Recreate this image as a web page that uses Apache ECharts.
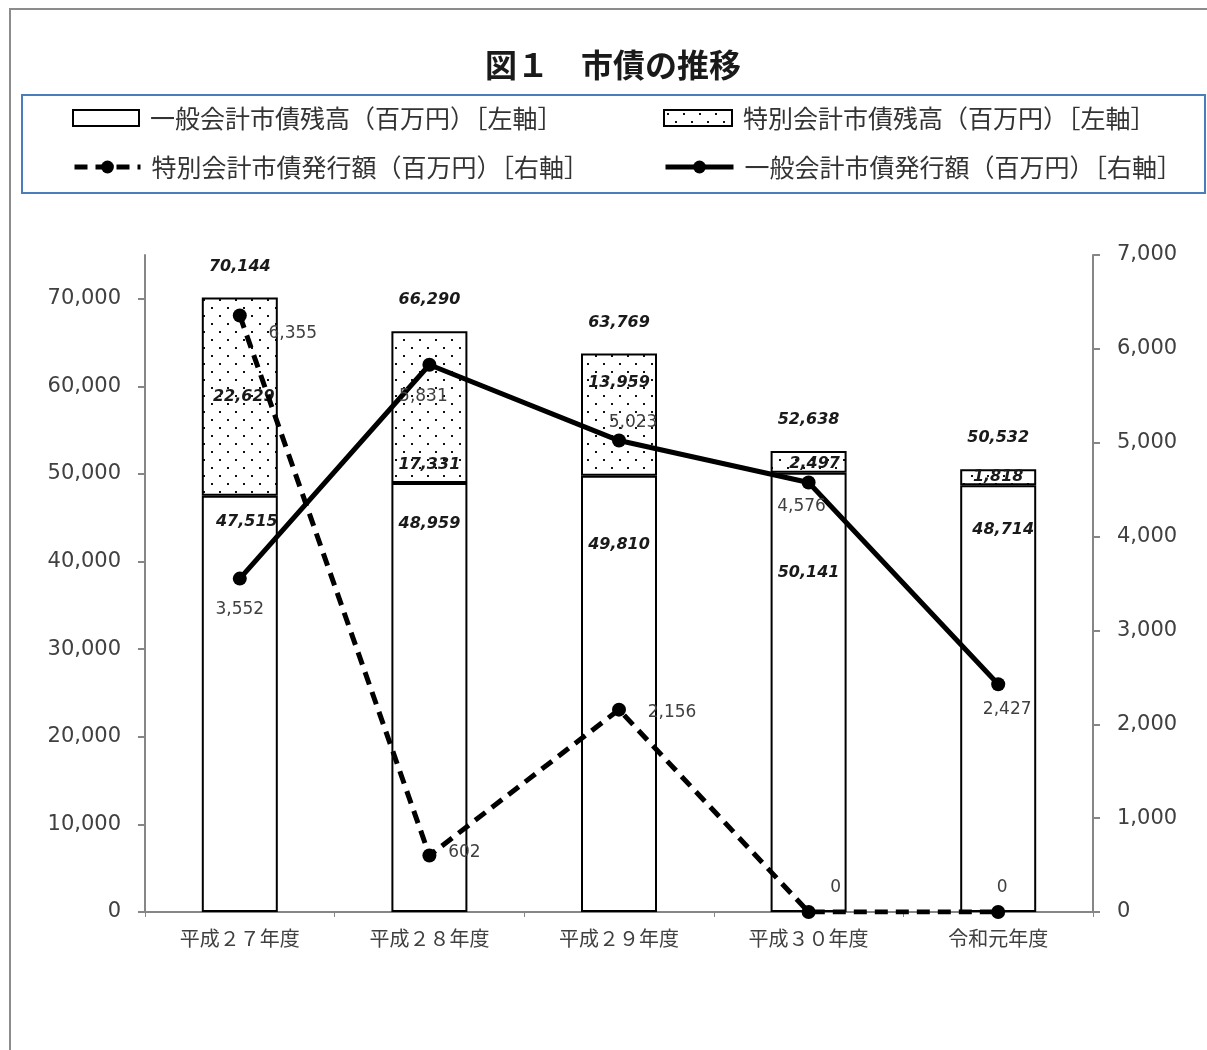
<!DOCTYPE html>
<html>
<head>
<meta charset="utf-8">
<script src="https://cdn.jsdelivr.net/npm/echarts@6/dist/echarts.min.js"></script>
<style>
  html, body { margin: 0; padding: 0; background: #fff; }
  #chart { width: 1207px; height: 1050px; }
</style>
</head>
<body>
<div id="chart"></div>
<script>
// ---- data (百万円) ----
const years = ['平成２７年度', '平成２８年度', '平成２９年度', '平成３０年度', '令和元年度'];
const generalBalance = [47515, 48959, 49810, 50141, 48714];   // 一般会計市債残高
const specialBalance = [22629, 17331, 13959, 2497, 1818];     // 特別会計市債残高
const generalIssue = [3552, 5831, 5023, 4576, 2427];          // 一般会計市債発行額
const specialIssue = [6355, 602, 2156, 0, 0];                 // 特別会計市債発行額
const leftTicks = [0, 10000, 20000, 30000, 40000, 50000, 60000, 70000];
const rightTicks = [0, 1000, 2000, 3000, 4000, 5000, 6000, 7000];

const NAME_GB = '一般会計市債残高（百万円）［左軸］';
const NAME_SB = '特別会計市債残高（百万円）［左軸］';
const NAME_SI = '特別会計市債発行額（百万円）［右軸］';
const NAME_GI = '一般会計市債発行額（百万円）［右軸］';

const totalBalance = generalBalance.map((v, i) => v + specialBalance[i]);

// ---- label nudges (px) ----
const gbLabelShift = [[7, 17], [0, 32], [0, 60], [0, 91], [5, 36]];
const sbLabelShift = [[4, 0], [0, 58], [0, -32], [6, 2], [0, 0]];
const giLabelShift = [[0, 31], [-6, 32], [14, -18], [-7, 24], [9, 25]];
const siLabelShift = [[53, 18], [35, -3], [53, 3], [27, -24], [4, -24]];

const fmt = v => Number(v).toLocaleString('en-US');
const NUM_FONT = '"DejaVu Sans", Verdana, sans-serif';
const JP_FONT = '"Noto Sans CJK JP", sans-serif';

// dotted fill for the special-account bars
function dotTile() {
  const c = document.createElement('canvas');
  c.width = 16; c.height = 16;
  const g = c.getContext('2d');
  g.fillStyle = '#ffffff';
  g.fillRect(0, 0, 16, 16);
  g.fillStyle = '#111111';
  g.fillRect(3, 3, 2, 2);
  g.fillRect(11, 11, 2, 2);
  return c;
}
const dots = { image: dotTile(), repeat: 'repeat' };

const barLabelFont = {
  fontFamily: NUM_FONT, fontSize: 16, fontWeight: 'bold', fontStyle: 'italic',
  color: '#1a1a1a', lineHeight: 18
};
const lineLabelFont = { fontFamily: NUM_FONT, fontSize: 17, color: '#404040' };

const axisGray = '#868686';

function legendAt(name, left, top, iconW, icon) {
  const l = {
    data: [name], left: left, top: top, padding: 0, orient: 'horizontal',
    itemWidth: iconW, itemHeight: 16, itemGap: 0, selectedMode: false,
    textStyle: { fontFamily: JP_FONT, fontSize: 25, color: '#333333', lineHeight: 28, padding: [0, 0, 0, 6] },
    itemStyle: { borderWidth: 2 },
    lineStyle: { width: 5 }
  };
  if (icon) l.icon = icon;
  return l;
}

const chart = echarts.init(document.getElementById('chart'), null, { renderer: 'canvas' });

chart.setOption({
  backgroundColor: '#ffffff',
  animation: false,
  title: {
    text: '図１　市債の推移',
    left: 608, top: 44, textAlign: 'center',
    textStyle: { fontFamily: JP_FONT, fontSize: 32, fontWeight: 'bold', color: '#1a1a1a' }
  },
  graphic: [
    { type: 'rect', shape: { x: 10, y: 9, width: 1300, height: 1200 },
      style: { fill: 'none', stroke: '#8c8c8c', lineWidth: 2 }, silent: true },
    { type: 'rect', shape: { x: 22, y: 95, width: 1183, height: 98 },
      style: { fill: 'none', stroke: '#4a7ebb', lineWidth: 2 }, silent: true }
  ],
  legend: [
    legendAt(NAME_GB, 72, 104, 66, 'rect'),
    legendAt(NAME_SB, 663, 104, 68, 'rect'),
    legendAt(NAME_SI, 72, 153, 66),
    legendAt(NAME_GI, 663, 153, 68)
  ],
  grid: { left: 145, right: 114, top: 255, bottom: 138, containLabel: false },
  xAxis: {
    type: 'category', data: years, boundaryGap: true,
    axisLine: { lineStyle: { color: axisGray, width: 2 } },
    axisTick: { show: true, length: 5, lineStyle: { color: axisGray, width: 1 } },
    axisLabel: { fontFamily: JP_FONT, fontSize: 20, color: '#404040', margin: 16 }
  },
  yAxis: [
    {
      type: 'value', min: 0, max: 75000, interval: 10000,
      splitLine: { show: false },
      axisLine: { show: true, lineStyle: { color: axisGray, width: 2 } },
      axisTick: { show: true, length: 7, customValues: leftTicks, lineStyle: { color: axisGray, width: 2 } },
      axisLabel: { customValues: leftTicks, formatter: fmt, fontFamily: NUM_FONT, fontSize: 21, color: '#404040', margin: 24 }
    },
    {
      type: 'value', min: 0, max: 7000, interval: 1000, position: 'right',
      splitLine: { show: false },
      axisLine: { show: true, lineStyle: { color: axisGray, width: 2 } },
      axisTick: { show: true, length: 7, customValues: rightTicks, lineStyle: { color: axisGray, width: 2 } },
      axisLabel: { customValues: rightTicks, formatter: fmt, fontFamily: NUM_FONT, fontSize: 21, color: '#404040', margin: 24 }
    }
  ],
  series: [
    {
      name: NAME_GB, type: 'bar', stack: 'balance', barWidth: 76, yAxisIndex: 0,
      itemStyle: { color: '#ffffff', borderColor: '#000000', borderWidth: 2 },
      data: generalBalance.map((v, i) => ({
        value: v,
        label: { offset: gbLabelShift[i] }
      })),
      label: {
        show: true, position: 'insideTop', distance: 0,
        formatter: p => fmt(p.value), ...barLabelFont
      },
      z: 2
    },
    {
      name: NAME_SB, type: 'bar', stack: 'balance', barWidth: 76, yAxisIndex: 0,
      itemStyle: { color: dots, borderColor: '#000000', borderWidth: 2 },
      data: specialBalance.map((v, i) => ({
        value: v,
        label: { offset: sbLabelShift[i] }
      })),
      label: {
        show: true, position: 'inside',
        formatter: p => fmt(p.value), ...barLabelFont
      },
      z: 2
    },
    {
      // stack totals written above each bar
      name: 'total', type: 'line', yAxisIndex: 0, data: totalBalance,
      symbol: 'circle', symbolSize: 0, silent: true,
      itemStyle: { color: 'rgba(0,0,0,0)' },
      lineStyle: { width: 0, opacity: 0 },
      label: {
        show: true, position: 'top', distance: 22,
        formatter: p => fmt(p.value), ...barLabelFont
      },
      z: 3
    },
    {
      name: NAME_GI, type: 'line', yAxisIndex: 1,
      symbol: 'circle', symbolSize: 14,
      itemStyle: { color: '#000000' },
      lineStyle: { color: '#000000', width: 5, type: 'solid' },
      data: generalIssue.map((v, i) => ({
        value: v,
        label: { offset: giLabelShift[i] }
      })),
      label: {
        show: true, position: 'inside',
        formatter: p => fmt(p.value), ...lineLabelFont
      },
      z: 4
    },
    {
      name: NAME_SI, type: 'line', yAxisIndex: 1,
      symbol: 'circle', symbolSize: 14,
      itemStyle: { color: '#000000' },
      lineStyle: { color: '#000000', width: 5, type: [13, 8] },
      data: specialIssue.map((v, i) => ({
        value: v,
        label: { offset: siLabelShift[i] }
      })),
      label: {
        show: true, position: 'inside',
        formatter: p => fmt(p.value), ...lineLabelFont
      },
      z: 5
    }
  ]
});
</script>
</body>
</html>
